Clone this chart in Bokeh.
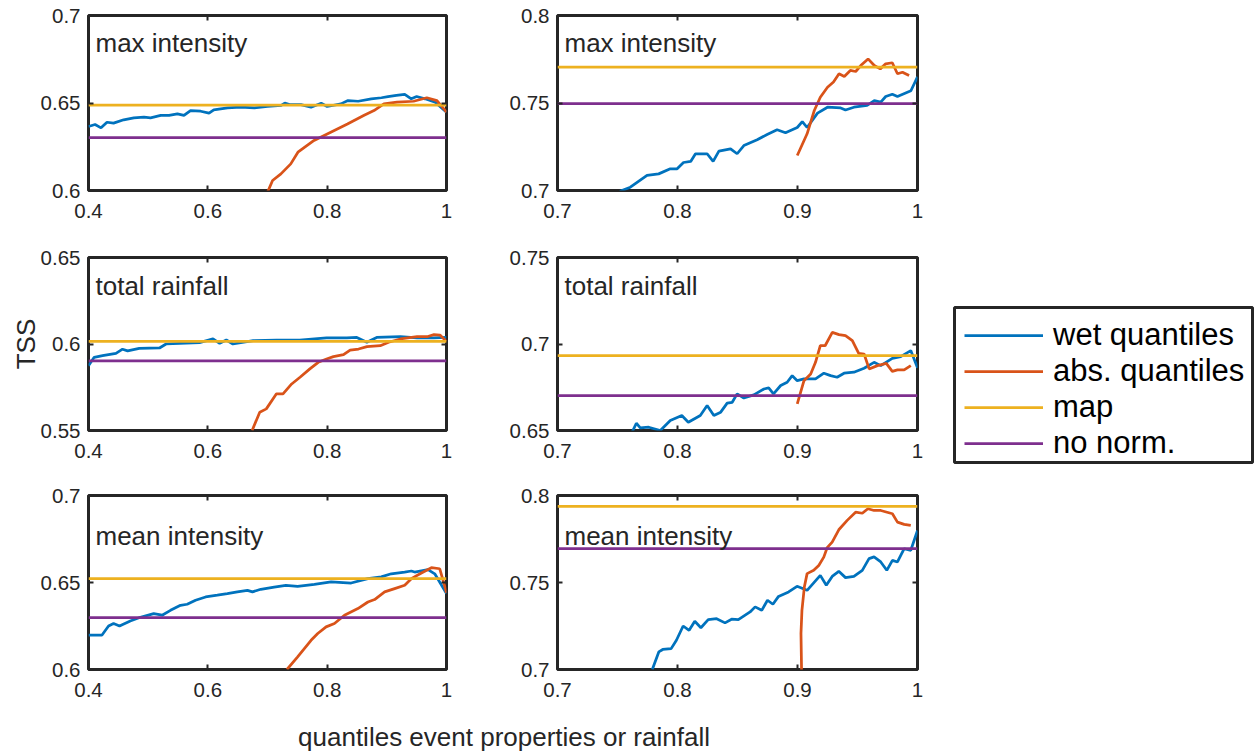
from bokeh.plotting import figure
from bokeh.models import (Range1d, FixedTicker, CustomJSTickFormatter, LinearAxis,
                          Label, Legend, LegendItem, Spacer)
from bokeh.layouts import column, row
from bokeh.embed import file_html
from bokeh.resources import INLINE

BLUE = "#0072BD"
ORANGE = "#D95319"
YELLOW = "#EDB120"
PURPLE = "#7E2F8E"
INK = "#262626"
FONT = "Liberation Sans"

SERIES_NAMES = ["wet quantiles", "abs. quantiles", "map", "no norm."]
SERIES_COLORS = [BLUE, ORANGE, YELLOW, PURPLE]
PANEL_TITLES = ["max intensity", "total rainfall", "mean intensity"]
Y_LABEL = "TSS"
X_LABEL = "quantiles event properties or rainfall"

LEFT_XLIM = [0.4, 1.0]
RIGHT_XLIM = [0.7, 1.0]
LEFT_XTICKS = [0.4, 0.6, 0.8, 1.0]
RIGHT_XTICKS = [0.7, 0.8, 0.9, 1.0]

# ---------------- max intensity, left ----------------
tl_ylim = [0.6, 0.7]
tl_yticks = [0.6, 0.65, 0.7]
tl_wet_x = [0.400, 0.411, 0.421, 0.431, 0.442, 0.459, 0.476, 0.493, 0.504, 0.521,
            0.535, 0.549, 0.560, 0.571, 0.588, 0.602, 0.610, 0.633, 0.655, 0.678,
            0.700, 0.723, 0.729, 0.737, 0.756, 0.773, 0.790, 0.800, 0.823, 0.835,
            0.852, 0.874, 0.891, 0.902, 0.916, 0.930, 0.941, 0.950, 0.964, 0.981, 1.000]
tl_wet_y = [0.6366, 0.6377, 0.6358, 0.6390, 0.6385, 0.6404, 0.6415, 0.6419, 0.6415, 0.6429,
            0.6429, 0.6438, 0.6429, 0.6457, 0.6453, 0.6442, 0.6461, 0.6472, 0.6476, 0.6472,
            0.6480, 0.6486, 0.6499, 0.6491, 0.6491, 0.6476, 0.6499, 0.6480, 0.6495, 0.6514,
            0.6510, 0.6524, 0.6530, 0.6537, 0.6543, 0.6549, 0.6524, 0.6537, 0.6524, 0.6505, 0.6448]
tl_abs_x = [0.700, 0.7085, 0.7225, 0.739, 0.751, 0.778, 0.806, 0.834, 0.862, 0.8785,
            0.895, 0.917, 0.945, 0.967, 0.984, 1.000]
tl_abs_y = [0.599, 0.6057, 0.6095, 0.6152, 0.6219, 0.6286, 0.6333, 0.6380, 0.6430, 0.6457,
            0.6495, 0.6505, 0.6510, 0.6530, 0.6514, 0.6448]
tl_map = 0.6488
tl_nonorm = 0.6302

# ---------------- max intensity, right ----------------
tr_ylim = [0.7, 0.8]
tr_yticks = [0.7, 0.75, 0.8]
tr_wet_x = [0.752, 0.7607, 0.7746, 0.7843, 0.794, 0.7997, 0.805, 0.811, 0.815, 0.8247,
            0.8297, 0.8345, 0.8442, 0.8497, 0.8553, 0.8664, 0.8747, 0.883, 0.890, 0.8998,
            0.904, 0.908, 0.9167, 0.925, 0.936, 0.940, 0.947, 0.958, 0.964, 0.9694,
            0.9735, 0.979, 0.9833, 0.9945, 1.000]
tr_wet_y = [0.6995, 0.7019, 0.7086, 0.7095, 0.7124, 0.7124, 0.7160, 0.7166, 0.7210, 0.7210,
            0.7166, 0.7225, 0.7238, 0.7210, 0.7257, 0.7290, 0.7320, 0.7347, 0.7330, 0.7360,
            0.7394, 0.7360, 0.7442, 0.7476, 0.7472, 0.7460, 0.7476, 0.7486, 0.7514, 0.7505,
            0.7537, 0.7550, 0.7537, 0.7570, 0.7650]
tr_abs_x = [0.8998, 0.908, 0.914, 0.919, 0.925, 0.930, 0.9346, 0.939, 0.944, 0.9485,
            0.9527, 0.9588, 0.964, 0.969, 0.9735, 0.979, 0.9833, 0.9875, 0.993]
tr_abs_y = [0.7200, 0.7324, 0.7457, 0.7533, 0.7590, 0.7620, 0.7667, 0.7652, 0.7686, 0.7680,
            0.7714, 0.7752, 0.7714, 0.7695, 0.7724, 0.7730, 0.7667, 0.7676, 0.7657]
tr_map = 0.7705
tr_nonorm = 0.7497

# ---------------- total rainfall, left ----------------
ml_ylim = [0.55, 0.65]
ml_yticks = [0.55, 0.6, 0.65]
ml_wet_x = [0.400, 0.4095, 0.4236, 0.446, 0.457, 0.4656, 0.485, 0.519, 0.530, 0.5525,
            0.586, 0.6087, 0.6198, 0.631, 0.642, 0.676, 0.715, 0.754, 0.799, 0.833,
            0.8497, 0.8665, 0.883, 0.9226, 0.9507, 0.979, 1.000]
ml_wet_y = [0.5875, 0.5923, 0.5933, 0.5946, 0.5970, 0.5960, 0.5975, 0.5977, 0.6000, 0.6004,
            0.6008, 0.6030, 0.6004, 0.6023, 0.6000, 0.6019, 0.6023, 0.6023, 0.6035, 0.6035,
            0.6038, 0.6010, 0.6038, 0.6042, 0.6035, 0.6035, 0.6038]
ml_abs_x = [0.6742, 0.687, 0.698, 0.715, 0.726, 0.7405, 0.7545, 0.771, 0.785, 0.799,
            0.8105, 0.8274, 0.8385, 0.8526, 0.8667, 0.889, 0.903, 0.9227, 0.9507, 0.9675,
            0.979, 0.989, 1.000]
ml_abs_y = [0.5500, 0.5606, 0.5625, 0.5712, 0.5712, 0.5769, 0.5808, 0.5856, 0.5894, 0.5913,
            0.5927, 0.5938, 0.5965, 0.5971, 0.5985, 0.5990, 0.6010, 0.6029, 0.6042, 0.6042,
            0.6054, 0.6052, 0.6015]
ml_map = 0.6015
ml_nonorm = 0.5903

# ---------------- total rainfall, right ----------------
mr_ylim = [0.65, 0.75]
mr_yticks = [0.65, 0.7, 0.75]
mr_wet_x = [0.7625, 0.7657, 0.769, 0.776, 0.7857, 0.794, 0.8036, 0.809, 0.819, 0.8247,
            0.8303, 0.836, 0.8414, 0.8456, 0.8497, 0.8553, 0.8636, 0.872, 0.876, 0.880,
            0.886, 0.8914, 0.8956, 0.8998, 0.9054, 0.915, 0.922, 0.9276, 0.933, 0.9388,
            0.947, 0.9555, 0.9638, 0.9694, 0.979, 0.986, 0.9944, 1.000]
mr_wet_y = [0.6495, 0.6542, 0.6515, 0.6519, 0.6500, 0.6558, 0.6587, 0.6548, 0.6587, 0.6644,
            0.6587, 0.6606, 0.6658, 0.6663, 0.6712, 0.6688, 0.6706, 0.6740, 0.6746, 0.6712,
            0.6760, 0.6779, 0.6817, 0.6788, 0.6798, 0.6798, 0.6831, 0.6817, 0.6808, 0.6831,
            0.6837, 0.6860, 0.6894, 0.6875, 0.6917, 0.6927, 0.6962, 0.6862]
mr_abs_x = [0.8998, 0.9054, 0.911, 0.915, 0.919, 0.923, 0.929, 0.9346, 0.940, 0.9457,
            0.951, 0.9555, 0.9597, 0.9666, 0.974, 0.979, 0.9833, 0.9889, 0.9944]
mr_abs_y = [0.6654, 0.6788, 0.6827, 0.6894, 0.6990, 0.6990, 0.7067, 0.7054, 0.7048, 0.7019,
            0.6946, 0.6942, 0.6856, 0.6875, 0.6888, 0.6842, 0.6850, 0.6850, 0.6875]
mr_map = 0.6933
mr_nonorm = 0.6702

# ---------------- mean intensity, left ----------------
bl_ylim = [0.6, 0.7]
bl_yticks = [0.6, 0.65, 0.7]
bl_wet_x = [0.400, 0.4224, 0.4336, 0.442, 0.452, 0.470, 0.487, 0.5093, 0.5234, 0.5374,
            0.5542, 0.5654, 0.5794, 0.5963, 0.6159, 0.6327, 0.6495, 0.6664, 0.6748, 0.6888,
            0.7112, 0.7308, 0.7505, 0.7785, 0.8066, 0.8402, 0.8682, 0.8906, 0.9074, 0.9298,
            0.941, 0.9466, 0.969, 0.9803, 1.000]
bl_wet_y = [0.6197, 0.6197, 0.6250, 0.6264, 0.6250, 0.6279, 0.6300, 0.6321, 0.6312, 0.6340,
            0.6369, 0.6375, 0.6398, 0.6417, 0.6427, 0.6436, 0.6446, 0.6455, 0.6446, 0.6461,
            0.6474, 0.6484, 0.6478, 0.6489, 0.6503, 0.6497, 0.6522, 0.6532, 0.6550, 0.6560,
            0.6566, 0.6560, 0.6574, 0.6550, 0.6436]
bl_abs_x = [0.7326, 0.7505, 0.773, 0.7842, 0.7982, 0.8122, 0.829, 0.8515, 0.8683, 0.8795,
            0.8963, 0.9131, 0.930, 0.941, 0.958, 0.9747, 0.9887, 0.9943, 1.000]
bl_abs_y = [0.6000, 0.6073, 0.6168, 0.6207, 0.6245, 0.6264, 0.6312, 0.6350, 0.6388, 0.6402,
            0.6446, 0.6465, 0.6484, 0.6522, 0.6555, 0.6585, 0.6579, 0.6512, 0.6440]
bl_map = 0.6522
bl_nonorm = 0.6298

# ---------------- mean intensity, right ----------------
br_ylim = [0.7, 0.8]
br_yticks = [0.7, 0.75, 0.8]
br_wet_x = [0.779, 0.7844, 0.7877, 0.7947, 0.7991, 0.8047, 0.8097, 0.8144, 0.8195, 0.8256,
            0.8326, 0.8396, 0.8451, 0.8507, 0.8605, 0.8647, 0.8702, 0.875, 0.8795, 0.8842,
            0.8926, 0.8996, 0.908, 0.919, 0.924, 0.9289, 0.9344, 0.940, 0.947, 0.954,
            0.9596, 0.9638, 0.9694, 0.9744, 0.9791, 0.9833, 0.9889, 0.9944, 1.000]
br_wet_y = [0.7000, 0.7101, 0.7115, 0.7120, 0.7168, 0.7250, 0.7225, 0.7277, 0.7240, 0.7287,
            0.7292, 0.7268, 0.7289, 0.7287, 0.7331, 0.7360, 0.7340, 0.7398, 0.7375, 0.7420,
            0.7446, 0.7478, 0.7455, 0.7541, 0.7484, 0.7535, 0.7564, 0.7528, 0.7535, 0.7570,
            0.7637, 0.7647, 0.7618, 0.7570, 0.7627, 0.7618, 0.7694, 0.7685, 0.7799]
br_abs_x = [0.9035, 0.9029, 0.9037, 0.9057, 0.908, 0.9135, 0.9177, 0.9219, 0.9247, 0.9289,
            0.9344, 0.9414, 0.9484, 0.954, 0.9587, 0.9638, 0.9694, 0.9791, 0.9833, 0.9889, 0.9944]
br_abs_y = [0.6950, 0.7207, 0.7340, 0.7474, 0.7551, 0.7570, 0.7598, 0.7646, 0.7700, 0.7732,
            0.7803, 0.7857, 0.7904, 0.7898, 0.7924, 0.7914, 0.7914, 0.7895, 0.7847, 0.7834, 0.7828]
br_map = 0.7937
br_nonorm = 0.7694

# ---------------- layout (pixels) ----------------
FRAME_W_L, FRAME_W_R = 358, 360
B_LEFT_L, B_RIGHT_L = 88, 20
B_LEFT_R, B_RIGHT_R = 91, 10
ROWS = [  # (border top, frame height, border bottom, title baseline drop)
    (15, 175, 40, 27),
    (27, 173, 40, 28),
    (25, 174, 40, 40),
]
LW = 2.75

num_fmt = CustomJSTickFormatter(code="""
var s = tick.toFixed(2);
s = s.replace(/0+$/, '');
s = s.replace(/\\.$/, '');
return s;
""")
blank_fmt = CustomJSTickFormatter(code="return '';")


def no_grid(p):
    p.xgrid.grid_line_color = None
    p.ygrid.grid_line_color = None


def style_axis(ax, labelled, standoff):
    ax.axis_line_color = None
    ax.major_tick_in = 5
    ax.major_tick_out = 0
    ax.major_tick_line_color = INK
    ax.major_tick_line_width = 2
    ax.minor_tick_line_color = None
    ax.major_label_text_font = FONT
    ax.major_label_text_color = INK
    if labelled:
        ax.major_label_text_font_size = "20.5px"
        ax.major_label_standoff = standoff
    else:
        ax.major_label_text_font_size = "0px"
        ax.major_label_standoff = 0


def make_panel(xlim, xticks, ylim, yticks, wx, wy, ax_, ay, map_lvl, nonorm_lvl,
               title, rowspec, frame_w, b_left, b_right, ylabel=None):
    bt, fh, bb, drop = rowspec
    p = figure(width=b_left + frame_w + b_right, height=bt + fh + bb,
               x_range=Range1d(xlim[0], xlim[1]), y_range=Range1d(ylim[0], ylim[1]),
               output_backend="svg", toolbar_location=None,
               x_axis_location=None, y_axis_location=None,
               min_border_left=b_left, min_border_right=b_right,
               min_border_top=bt, min_border_bottom=bb)
    no_grid(p)
    p.outline_line_color = INK
    p.outline_line_width = 3
    p.background_fill_color = "white"
    p.border_fill_color = "white"

    xb = LinearAxis(ticker=FixedTicker(ticks=xticks), formatter=num_fmt)
    xt = LinearAxis(ticker=FixedTicker(ticks=xticks), formatter=blank_fmt)
    yl = LinearAxis(ticker=FixedTicker(ticks=yticks), formatter=num_fmt)
    yr = LinearAxis(ticker=FixedTicker(ticks=yticks), formatter=blank_fmt)
    style_axis(xb, True, 13)
    style_axis(xt, False, 0)
    style_axis(yl, True, 8)
    style_axis(yr, False, 0)
    if ylabel:
        yl.axis_label = ylabel
        yl.axis_label_text_font = FONT
        yl.axis_label_text_font_size = "26px"
        yl.axis_label_text_font_style = "normal"
        yl.axis_label_text_color = INK
        yl.axis_label_standoff = -3
    p.add_layout(xb, "below")
    p.add_layout(xt, "above")
    p.add_layout(yl, "left")
    p.add_layout(yr, "right")

    p.line(wx, wy, line_color=BLUE, line_width=LW)
    p.line(ax_, ay, line_color=ORANGE, line_width=LW)
    p.line(xlim, [map_lvl, map_lvl], line_color=YELLOW, line_width=LW)
    p.line(xlim, [nonorm_lvl, nonorm_lvl], line_color=PURPLE, line_width=LW)

    p.add_layout(Label(x=7, y=fh - drop, x_units="screen", y_units="screen",
                       text=title, text_font=FONT, text_font_size="26px",
                       text_color=INK, text_align="left", text_baseline="alphabetic"))
    return p


tl = make_panel(LEFT_XLIM, LEFT_XTICKS, tl_ylim, tl_yticks, tl_wet_x, tl_wet_y,
                tl_abs_x, tl_abs_y, tl_map, tl_nonorm, PANEL_TITLES[0], ROWS[0],
                FRAME_W_L, B_LEFT_L, B_RIGHT_L)
tr = make_panel(RIGHT_XLIM, RIGHT_XTICKS, tr_ylim, tr_yticks, tr_wet_x, tr_wet_y,
                tr_abs_x, tr_abs_y, tr_map, tr_nonorm, PANEL_TITLES[0], ROWS[0],
                FRAME_W_R, B_LEFT_R, B_RIGHT_R)
ml = make_panel(LEFT_XLIM, LEFT_XTICKS, ml_ylim, ml_yticks, ml_wet_x, ml_wet_y,
                ml_abs_x, ml_abs_y, ml_map, ml_nonorm, PANEL_TITLES[1], ROWS[1],
                FRAME_W_L, B_LEFT_L, B_RIGHT_L, ylabel=Y_LABEL)
mr = make_panel(RIGHT_XLIM, RIGHT_XTICKS, mr_ylim, mr_yticks, mr_wet_x, mr_wet_y,
                mr_abs_x, mr_abs_y, mr_map, mr_nonorm, PANEL_TITLES[1], ROWS[1],
                FRAME_W_R, B_LEFT_R, B_RIGHT_R)
bl = make_panel(LEFT_XLIM, LEFT_XTICKS, bl_ylim, bl_yticks, bl_wet_x, bl_wet_y,
                bl_abs_x, bl_abs_y, bl_map, bl_nonorm, PANEL_TITLES[2], ROWS[2],
                FRAME_W_L, B_LEFT_L, B_RIGHT_L)
br = make_panel(RIGHT_XLIM, RIGHT_XTICKS, br_ylim, br_yticks, br_wet_x, br_wet_y,
                br_abs_x, br_abs_y, br_map, br_nonorm, PANEL_TITLES[2], ROWS[2],
                FRAME_W_R, B_LEFT_R, B_RIGHT_R)

# ---------------- x label spanning both columns ----------------
top_h = sum(sum(r[:3]) for r in ROWS)
xlab_h = 753 - top_h
xlab_w = (B_LEFT_L + FRAME_W_L + B_RIGHT_L) + (B_LEFT_R + FRAME_W_R + B_RIGHT_R)
xlab = figure(width=xlab_w, height=xlab_h, x_range=Range1d(0, 1), y_range=Range1d(0, 1),
              output_backend="svg", toolbar_location=None, min_border=0,
              x_axis_location=None, y_axis_location=None)
no_grid(xlab)
xlab.outline_line_color = None
xlab.add_layout(Label(x=503.5, y=xlab_h - 27, x_units="screen", y_units="screen",
                      text=X_LABEL, text_font=FONT,
                      text_font_size="26px", text_color=INK,
                      text_align="center", text_baseline="alphabetic"))

# ---------------- legend panel (separate column) ----------------
LG_BOX_W, LG_BOX_H = 298, 155
LG_LEFT, LG_TOP = 27, 307
PAD = 2
lg = figure(width=LG_LEFT + LG_BOX_W + PAD, height=LG_BOX_H + 2 * PAD,
            x_range=Range1d(0.7, 1.0), y_range=Range1d(0.65, 0.75),
            output_backend="svg", toolbar_location=None,
            x_axis_location=None, y_axis_location=None,
            min_border_left=LG_LEFT, min_border_right=PAD,
            min_border_top=PAD, min_border_bottom=PAD)
no_grid(lg)
lg.outline_line_color = INK
lg.outline_line_width = 3
lg_series = [(mr_wet_x, mr_wet_y), (mr_abs_x, mr_abs_y),
             (RIGHT_XLIM, [mr_map, mr_map]), (RIGHT_XLIM, [mr_nonorm, mr_nonorm])]
lg_items = []
for name, col, (sx, sy) in zip(SERIES_NAMES, SERIES_COLORS, lg_series):
    r = lg.line(sx, sy, line_color=col, line_width=LW)
    r.visible = False
    lg_items.append(LegendItem(label=name, renderers=[r]))
legend = Legend(items=lg_items, location="top_left", orientation="vertical",
                border_line_color=None, background_fill_alpha=0.0,
                inactive_fill_alpha=0.0,
                label_text_font=FONT, label_text_font_size="31px", label_text_color="black",
                glyph_width=79, glyph_height=30, label_height=30, label_standoff=10,
                spacing=0, padding=0, margin=10)
lg.add_layout(legend, "center")

left_col = column(row(tl, tr), row(ml, mr), row(bl, br), xlab)
right_col = column(Spacer(width=LG_LEFT + LG_BOX_W + PAD, height=LG_TOP - PAD), lg)
layout = row(left_col, right_col)

open("out.html", "w").write(file_html(layout, INLINE))
